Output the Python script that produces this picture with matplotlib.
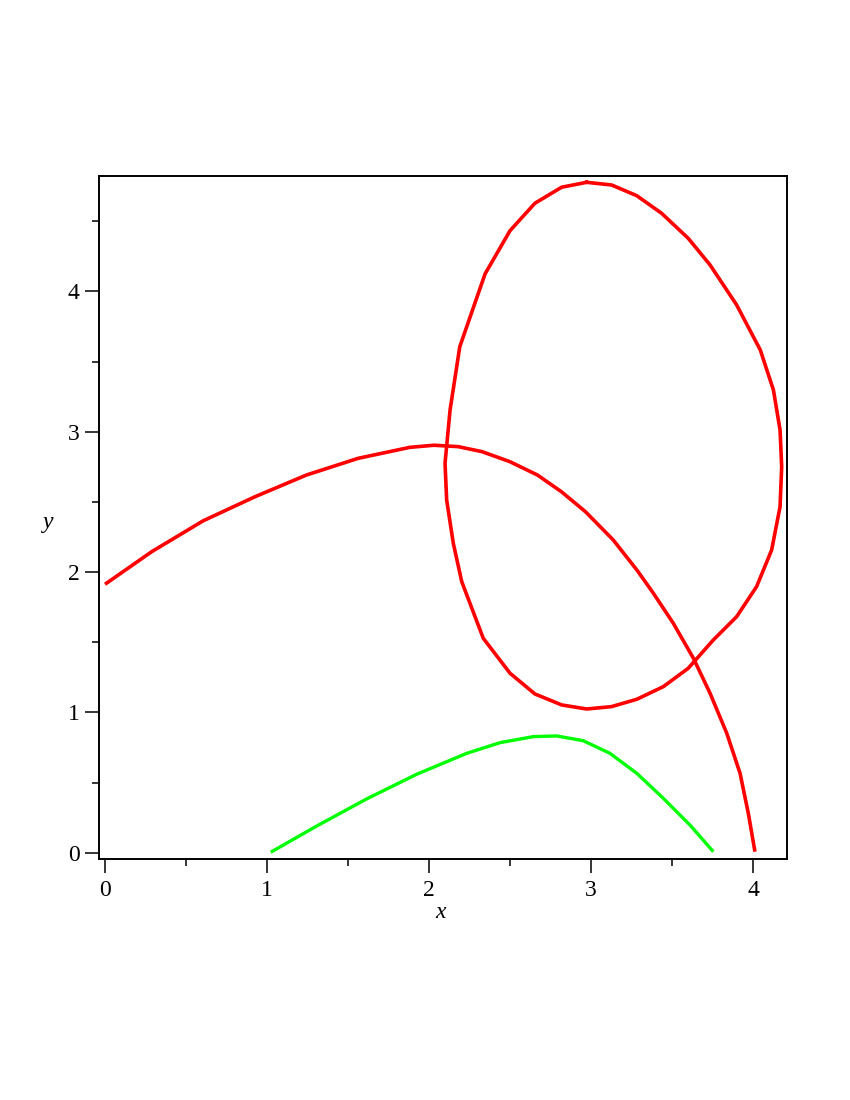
import matplotlib
matplotlib.use("Agg")
import matplotlib.pyplot as plt
from matplotlib.ticker import MultipleLocator

plt.rcParams['font.family'] = ['Liberation Serif', 'DejaVu Serif']

# Curve 1 (red, open arc)
arc_x = [0.0, 0.288, 0.607, 0.926, 1.244, 1.564, 1.882, 2.031, 2.18, 2.328, 2.499, 2.669,
         2.817, 2.966, 3.137, 3.285, 3.385, 3.508, 3.632, 3.735, 3.838, 3.92, 3.971, 4.012]
arc_y = [1.913, 2.145, 2.366, 2.537, 2.692, 2.811, 2.889, 2.904, 2.894, 2.858, 2.787, 2.692,
         2.573, 2.43, 2.229, 2.012, 1.849, 1.635, 1.386, 1.136, 0.851, 0.566, 0.281, 0.007]

# Curve 2 (red, closed loop)
loop_x = [2.973, 3.127, 3.282, 3.436, 3.60, 3.735, 3.796, 3.899, 4.045, 4.126, 4.167, 4.177,
          4.167, 4.115, 4.022, 3.899, 3.755, 3.60, 3.446, 3.282, 3.127, 2.973, 2.819, 2.654,
          2.50, 2.335, 2.202, 2.15, 2.109, 2.099, 2.13, 2.19, 2.346, 2.50, 2.654, 2.819, 2.973]
loop_y = [4.778, 4.759, 4.683, 4.557, 4.379, 4.189, 4.083, 3.904, 3.583, 3.298, 3.013, 2.751,
          2.466, 2.157, 1.896, 1.682, 1.516, 1.314, 1.183, 1.093, 1.041, 1.024, 1.053, 1.131,
          1.279, 1.528, 1.932, 2.205, 2.514, 2.776, 3.155, 3.606, 4.125, 4.433, 4.629, 4.743, 4.778]

# Curve 3 (green)
green_x = [1.023, 1.307, 1.615, 1.924, 2.233, 2.438, 2.644, 2.788, 2.952, 3.117, 3.282,
           3.446, 3.611, 3.755]
green_y = [0.003, 0.19, 0.383, 0.559, 0.708, 0.784, 0.827, 0.832, 0.798, 0.708, 0.566,
           0.388, 0.197, 0.007]

x_ticks = [0, 1, 2, 3, 4]
y_ticks = [0, 1, 2, 3, 4]

fig = plt.figure(figsize=(8.5, 11), dpi=100)
ax = fig.add_axes([99/850, 1-858.7/1100, (786.7-99)/850, (858.7-176)/1100])

ax.plot(arc_x, arc_y, color='#ff0000', lw=2.6, solid_joinstyle='round', solid_capstyle='butt')
ax.plot(loop_x, loop_y, color='#ff0000', lw=2.6, solid_joinstyle='round')
ax.plot(green_x, green_y, color='#00ff00', lw=2.4, solid_joinstyle='round', solid_capstyle='butt')

ax.set_xlim(-0.037, 4.208)
ax.set_ylim(-0.043, 4.823)
ax.set_xticks(x_ticks)
ax.set_yticks(y_ticks)
ax.xaxis.set_minor_locator(MultipleLocator(0.5))
ax.yaxis.set_minor_locator(MultipleLocator(0.5))
ax.tick_params(which='major', direction='out', length=10, width=1.1, labelsize=17, pad=4)
ax.tick_params(which='minor', direction='out', length=5, width=1.1)
ax.tick_params(axis='x', which='major', pad=5)
for s in ax.spines.values():
    s.set_linewidth(1.4)

ax.set_xlabel('x', fontsize=17, style='italic')
ax.xaxis.set_label_coords(0.496, -0.0795)
ax.xaxis.label.set_va('center')
ax.set_ylabel('y', fontsize=17, style='italic', rotation=0)
ax.yaxis.set_label_coords(-0.074, 0.493)
ax.yaxis.label.set_va('center')
ax.yaxis.label.set_ha('center')

fig.savefig('out.png', dpi=100)
